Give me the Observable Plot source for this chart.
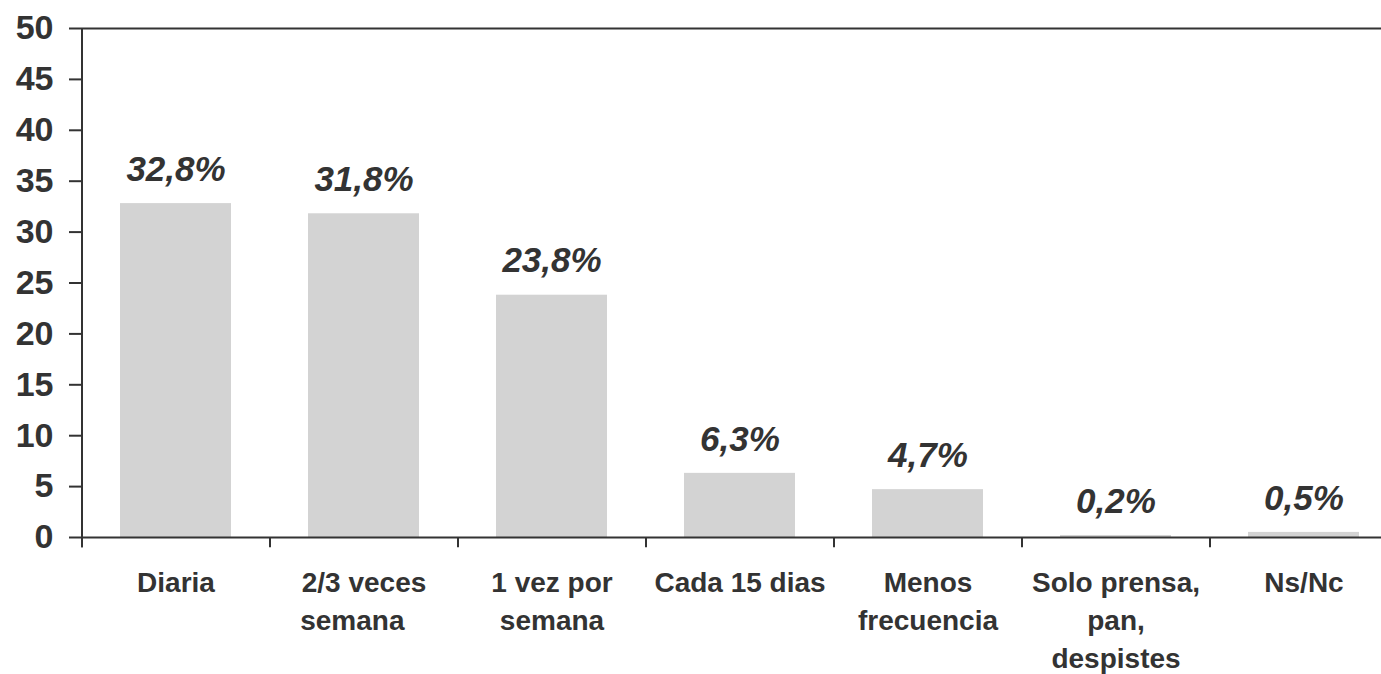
<!DOCTYPE html>
<html>
<head>
<meta charset="utf-8">
<script src="https://cdn.jsdelivr.net/npm/d3@7"></script>
<script src="https://cdn.jsdelivr.net/npm/@observablehq/plot@0.6"></script>
<style>
  html, body { margin: 0; padding: 0; background: #fff; }
  #chart svg { display: block; }
</style>
</head>
<body>
<div id="chart"></div>
<script>
const categories = ["Diaria", "2/3 veces semana", "1 vez por semana", "Cada 15 dias", "Menos frecuencia", "Solo prensa, pan, despistes", "Ns/Nc"];
const tickLabels = ["Diaria", "2/3 veces\nsemana\u00a0\u00a0\u00a0", "1 vez por\nsemana", "Cada 15 dias", "Menos\nfrecuencia", "Solo prensa,\npan,\ndespistes", "Ns/Nc"];
const values = [32.8, 31.8, 23.8, 6.3, 4.7, 0.2, 0.5];
const valueLabels = ["32,8%", "31,8%", "23,8%", "6,3%", "4,7%", "0,2%", "0,5%"];
const yTicks = [0, 5, 10, 15, 20, 25, 30, 35, 40, 45, 50];

const data = categories.map((c, i) => ({cat: c, value: values[i], label: valueLabels[i], tick: tickLabels[i]}));
const ink = "#333333";
const font = "'Liberation Sans', Arial, sans-serif";

const chart = Plot.plot({
  width: 1381,
  height: 674,
  marginLeft: 81,
  marginRight: 0,
  marginTop: 28,
  marginBottom: 137,
  style: {fontFamily: font, background: "#fff", color: ink},
  x: {domain: categories, range: [81, 1397], paddingInner: 0.41, paddingOuter: 0.205, axis: null},
  y: {domain: [0, 50], axis: null},
  marks: [
    Plot.barY(data, {x: "cat", y: "value", fill: "#d3d3d3"}),
    Plot.ruleY([0, 50], {stroke: ink, strokeWidth: 2}),
    Plot.ruleX(data, {x: "cat", y1: 0, y2: -1, dx: -94, stroke: ink, strokeWidth: 2}),
    Plot.ruleX([data[0]], {x: "cat", y1: -1, y2: 50, dx: -94, stroke: ink, strokeWidth: 2}),
    Plot.axisY({ticks: yTicks, tickSize: 12, tickPadding: 16, fontSize: 34, fontWeight: "bold", stroke: ink, strokeWidth: 2, fill: ink, tickFormat: d => String(d), label: null}),
    Plot.text(data, {x: "cat", y: "value", text: "label", dy: -34, fontSize: 35, fontWeight: "bold", fontStyle: "italic", fill: ink}),
    Plot.text(data, {x: "cat", y: 0, text: "tick", lineAnchor: "top", dy: 27, lineHeight: 1.36, fontSize: 28, fontWeight: "bold", fill: ink})
  ]
});
document.getElementById("chart").appendChild(chart);
</script>
</body>
</html>
